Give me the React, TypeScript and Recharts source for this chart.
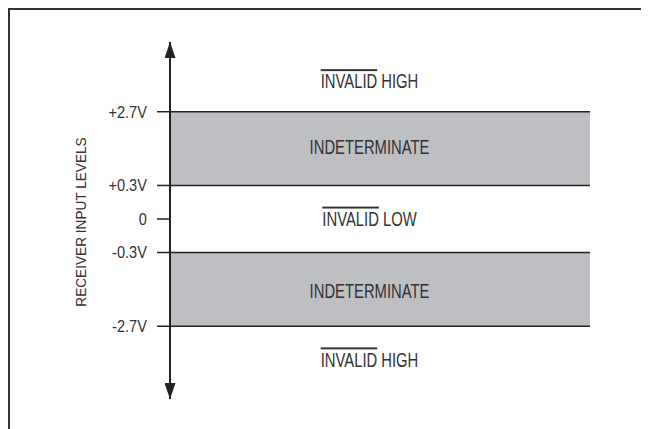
import React from 'react';
import { ComposedChart, XAxis, YAxis, ReferenceArea, ReferenceLine, Scatter } from 'recharts';

// Receiver input thresholds. Positions are schematic (the figure is not to scale).
const levelLabels = ['+2.7V', '+0.3V', '0', '-0.3V', '-2.7V'];
const levelPos = [3.2, 1, 0, -1, -3.2];

// shaded indeterminate bands
const bandFrom = [3.2, -1];
const bandTo = [1, -3.2];

// text for each region, top to bottom
const regionNames = ['INVALID HIGH', 'INDETERMINATE', 'INVALID LOW', 'INDETERMINATE', 'INVALID HIGH'];
const regionBar = [true, false, true, false, true];
const regionPos = [4.1, 2.15, 0, -2.15, -4.2];

const LABEL_X = 4.75;
// condensed look: Liberation Sans squeezed horizontally
const FONT = '"Liberation Sans", Arial, sans-serif';
const INK = '#222';
const TEXT = '#333';

const regions = regionNames.map((name, i) => ({ x: LABEL_X, y: regionPos[i], name, bar: regionBar[i] }));

const RegionLabel = (props: any) => {
  const { cx, cy, payload } = props;
  const [first, ...rest] = payload.name.split(' ');
  return (
    <g transform={`translate(${cx},${cy}) scale(0.76,1)`}>
      <text x={0} y={0} textAnchor="middle" dominantBaseline="central" fill={TEXT} fontSize={19.5} fontFamily={FONT}>
        {payload.bar ? (
          <>
            <tspan style={{ textDecoration: 'overline' }}>{first}</tspan>
            <tspan>{' ' + rest.join(' ')}</tspan>
          </>
        ) : (
          payload.name
        )}
      </text>
    </g>
  );
};

const LevelTick = (props: any) => {
  const { x, y, payload } = props;
  return (
    <g transform={`translate(${x},${y}) scale(0.86,1)`}>
      <text x={0} y={0} textAnchor="end" dominantBaseline="central" fill={TEXT} fontSize={17} fontFamily={FONT}>
        {levelLabels[levelPos.indexOf(payload.value)]}
      </text>
    </g>
  );
};

const AxisTitle = (props: any) => {
  const { viewBox } = props;
  const x = viewBox.x + 70.5;
  const y = viewBox.y + viewBox.height / 2 + 1.5;
  return (
    <g transform={`translate(${x},${y}) rotate(-90) scale(0.88,1)`}>
      <text x={0} y={0} textAnchor="middle" dominantBaseline="central" fill={TEXT} fontSize={15.5} fontFamily={FONT}>
        RECEIVER INPUT LEVELS
      </text>
    </g>
  );
};

export default function App() {
  return (
    <div
      style={{
        width: 640,
        height: 421,
        boxSizing: 'border-box',
        borderTop: '2px solid #333',
        borderLeft: '2px solid #333',
        borderRight: '2px solid #333',
        background: '#fff',
        fontFamily: FONT,
      }}
    >
      <ComposedChart width={636} height={419} margin={{ top: 32, right: 56, bottom: 30, left: 0 }}>
        <defs>
          <marker
            id="arrowHead"
            viewBox="0 0 16 11"
            refX="16"
            refY="5.5"
            markerWidth="16"
            markerHeight="11"
            markerUnits="userSpaceOnUse"
            orient="auto-start-reverse"
          >
            <path d="M0,0 L16,5.5 L0,11 Z" fill={INK} />
          </marker>
        </defs>
        <XAxis type="number" dataKey="x" domain={[0, 10]} hide />
        {bandFrom.map((y1, i) => (
          <ReferenceArea key={'band' + i} x1={0} x2={10} y1={y1} y2={bandTo[i]} fill="#bebfc3" fillOpacity={1} stroke="none" />
        ))}
        {[...bandFrom, ...bandTo].map((y) => (
          <ReferenceLine key={'line' + y} y={y} stroke={INK} strokeWidth={1.5} />
        ))}
        <YAxis
          type="number"
          dataKey="y"
          domain={[-5.37, 5.28]}
          ticks={levelPos}
          width={160}
          tickSize={13}
          tickMargin={10}
          interval={0}
          axisLine={{ stroke: INK, strokeWidth: 2, markerStart: 'url(#arrowHead)', markerEnd: 'url(#arrowHead)' }}
          tickLine={{ stroke: INK, strokeWidth: 1.5 }}
          tick={LevelTick}
          label={{ content: AxisTitle }}
        />
        <Scatter data={regions} dataKey="y" shape={RegionLabel} isAnimationActive={false} />
      </ComposedChart>
    </div>
  );
}
